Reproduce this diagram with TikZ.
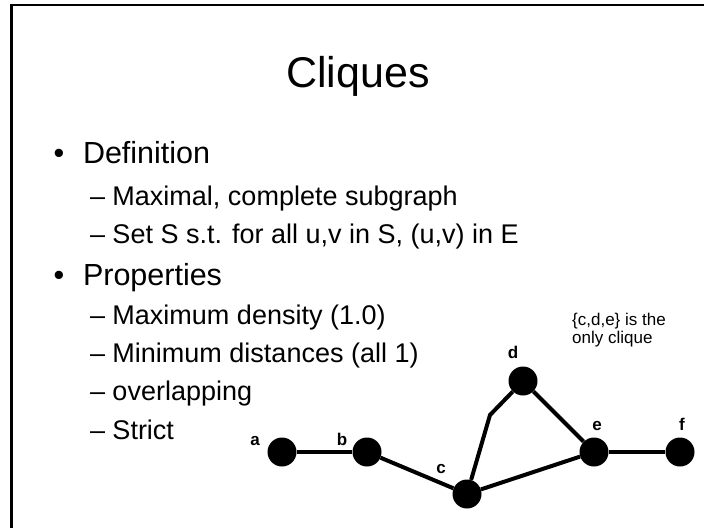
\documentclass[tikz,border=0pt]{standalone}
\usepackage{fontspec}
\setmainfont{Liberation Sans}
\begin{document}
\begin{tikzpicture}[x=1pt,y=-1pt,
  txt/.style={anchor=base west,inner sep=0pt,outer sep=0pt},
  lvlone/.style={txt,font=\fontsize{30.5}{36}\selectfont},
  lvltwo/.style={txt,font=\fontsize{27}{32}\selectfont},
  vtx/.style={circle,fill=black,minimum size=29pt,inner sep=0pt},
  vlab/.style={anchor=base,inner sep=0pt,font=\fontsize{17}{20}\selectfont\bfseries},
  edge/.style={line width=4pt},
  note/.style={anchor=base west,inner sep=0pt,font=\fontsize{17}{18}\selectfont}]
\useasboundingbox (0,0) rectangle (704,528);
\fill[white] (0,0) rectangle (704,528);
% frame
\draw[line width=2.6pt,line join=miter] (11.5,528) -- (11.5,5) -- (704,5);
% title
\node[anchor=base,inner sep=0pt,font=\fontsize{43}{50}\selectfont] (title) at (358,87) {Cliques};
% bullets
\node[anchor=base,inner sep=0pt,font=\fontsize{30.5}{36}\selectfont] (b1) at (59,163) {•};
\node[lvlone] (t1) at (83,163) {Definition};
\node[lvltwo] (t11) at (90,205) {– Maximal, complete subgraph};
\node[lvltwo] (t12) at (90,243) {– Set S s.t. for all u,v in S, (u,v) in E};
\node[anchor=base,inner sep=0pt,font=\fontsize{30.5}{36}\selectfont] (b2) at (59,285) {•};
\node[lvlone] (t2) at (83,285) {Properties};
\node[lvltwo] (t21) at (90,324) {– Maximum density (1.0)};
\node[lvltwo] (t22) at (90,362) {– Minimum distances (all 1)};
\node[lvltwo] (t23) at (90,400) {– overlapping};
\node[lvltwo] (t24) at (90,439) {– Strict};
% note
\node[note] (n1) at (572,325) {\{c,d,e\} is the};
\node[note] (n2) at (572,343) {only clique};
% graph
\node[vtx] (a) at (282,452) {};
\node[vtx] (b) at (367,452) {};
\node[vtx] (c) at (467,494) {};
\node[vtx] (d) at (523,381) {};
\node[vtx] (e) at (594,452) {};
\node[vtx] (f) at (680,452) {};
\coordinate (cd) at (490,415);
\draw[edge] (a) -- (b);
\draw[edge] (b) -- (c);
\draw[edge] (c) -- (cd) -- (d);
\draw[edge] (d) -- (e);
\draw[edge] (c) -- (e);
\draw[edge] (e) -- (f);
\node[vlab] (la) at (255,445) {a};
\node[vlab] (lb) at (342,445) {b};
\node[vlab] (lc) at (441,473) {c};
\node[vlab] (ld) at (513,358) {d};
\node[vlab] (le) at (597,430) {e};
\node[vlab] (lf) at (682,430) {f};
\end{tikzpicture}
\end{document}
